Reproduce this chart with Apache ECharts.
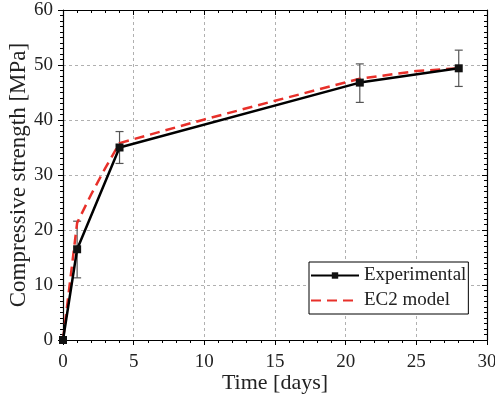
<!DOCTYPE html>
<html><head><meta charset="utf-8">
<script src="https://cdn.jsdelivr.net/npm/echarts@6/dist/echarts.min.js"></script>
<style>html,body{margin:0;padding:0;background:#fff}#c{width:495px;height:397px}</style>
</head><body><div id="c"></div>
<script>
const days = [0, 1, 4, 21, 28];
const expMean = [0, 16.5, 35.0, 46.8, 49.4];
const expLow = [null, 11.3, 32.1, 43.2, 46.1];
const expHigh = [null, 21.6, 37.9, 50.2, 52.7];
const modelDays = [0, 1, 2, 3, 4, 10, 15, 21, 25, 28];
const modelVals = [0, 21.3, 26.5, 31.3, 35.8, 40.1, 43.5, 47.5, 48.9, 49.4];
const xTicks = [0, 5, 10, 15, 20, 25, 30];
const yTicks = [0, 10, 20, 30, 40, 50, 60];

const font = '"Liberation Serif", "Times New Roman", serif';
const chart = echarts.init(document.getElementById('c'), null, {renderer: 'canvas'});

const expData = days.map((d, i) => [d, expMean[i]]);
const modelData = modelDays.map((d, i) => [d, modelVals[i]]);
const errData = days.map((d, i) => [d, expLow[i], expHigh[i]]).filter(r => r[1] != null);

const baseX = {
  type: 'value', min: xTicks[0], max: xTicks[xTicks.length - 1], interval: 5,
  axisLine: {show: true, onZero: false, lineStyle: {color: '#000', width: 1.2}},
  minorTick: {show: true, splitNumber: 5, length: 3, lineStyle: {color: '#000'}},
  axisTick: {length: 5, lineStyle: {color: '#000'}}
};
const baseY = {
  type: 'value', min: yTicks[0], max: yTicks[yTicks.length - 1], interval: 10,
  axisLine: {show: true, onZero: false, lineStyle: {color: '#000', width: 1.2}},
  minorTick: {show: true, splitNumber: 10, length: 3, lineStyle: {color: '#000'}},
  axisTick: {length: 5, lineStyle: {color: '#000'}}
};

chart.setOption({
  animation: false,
  backgroundColor: '#fff',
  grid: {left: 63, top: 10, right: 8, bottom: 57, containLabel: false, outerBoundsMode: 'none'},
  xAxis: [
    Object.assign({}, baseX, {
      position: 'bottom',
      name: 'Time [days]', nameLocation: 'middle', nameGap: 32, nameMoveOverlap: false,
      nameTextStyle: {fontFamily: font, fontSize: 22, color: '#222'},
      axisLabel: {fontFamily: font, fontSize: 19, color: '#222', margin: 13},
      splitLine: {show: true, lineStyle: {color: '#b0b0b0', type: [3, 3], width: 1}}
    }),
    Object.assign({}, baseX, {
      position: 'top',
      axisLabel: {show: false},
      axisTick: {inside: true, length: 5, lineStyle: {color: '#000'}},
      minorTick: {show: true, splitNumber: 5, length: 3, lineStyle: {color: '#000'}},
      splitLine: {show: false}
    })
  ],
  yAxis: [
    Object.assign({}, baseY, {
      position: 'left',
      name: 'Compressive strength [MPa]', nameLocation: 'middle', nameGap: 33, nameMoveOverlap: false,
      nameTextStyle: {fontFamily: font, fontSize: 23, color: '#222'},
      axisLabel: {fontFamily: font, fontSize: 19, color: '#222', margin: 10},
      splitLine: {show: true, lineStyle: {color: '#b0b0b0', type: [3, 3], width: 1}}
    }),
    Object.assign({}, baseY, {
      position: 'right',
      axisLabel: {show: false},
      axisTick: {inside: true, length: 5, lineStyle: {color: '#000'}},
      minorTick: {show: true, splitNumber: 10, length: 3, lineStyle: {color: '#000'}},
      splitLine: {show: false}
    })
  ],
  legend: {
    orient: 'vertical', left: 309, top: 262,
    backgroundColor: '#fff', borderColor: '#000', borderWidth: 1,
    padding: [4, 2, 4, 1], itemGap: 6, itemWidth: 48, itemHeight: 8,
    textStyle: {fontFamily: font, fontSize: 19, color: '#222'},
    data: [
      {name: 'Experimental'},
      {name: 'EC2 model', itemStyle: {opacity: 0}}
    ]
  },
  series: [
    {
      name: 'errorbars', type: 'custom', xAxisIndex: 0, yAxisIndex: 0, z: 1,
      data: errData,
      renderItem: function (params, api) {
        const x = api.value(0);
        const lo = api.coord([x, api.value(1)]);
        const hi = api.coord([x, api.value(2)]);
        const w = 4;
        const st = {stroke: '#555', lineWidth: 1.2};
        return {type: 'group', children: [
          {type: 'line', shape: {x1: lo[0], y1: lo[1], x2: hi[0], y2: hi[1]}, style: st},
          {type: 'line', shape: {x1: lo[0] - w, y1: lo[1], x2: lo[0] + w, y2: lo[1]}, style: st},
          {type: 'line', shape: {x1: hi[0] - w, y1: hi[1], x2: hi[0] + w, y2: hi[1]}, style: st}
        ]};
      }
    },
    {
      name: 'Experimental', type: 'line', xAxisIndex: 0, yAxisIndex: 0, z: 3,
      data: expData, symbol: 'rect', symbolSize: 8, showAllSymbol: true,
      clip: false,
      lineStyle: {color: '#000', width: 2.5},
      itemStyle: {color: '#111'}
    },
    {
      name: 'EC2 model', type: 'line', xAxisIndex: 0, yAxisIndex: 0, z: 2,
      data: modelData, symbol: 'none', showSymbol: false,
      lineStyle: {color: '#e8302a', width: 2.5, type: [10, 6]},
      itemStyle: {color: '#e8302a'}
    }
  ]
});
</script></body></html>
